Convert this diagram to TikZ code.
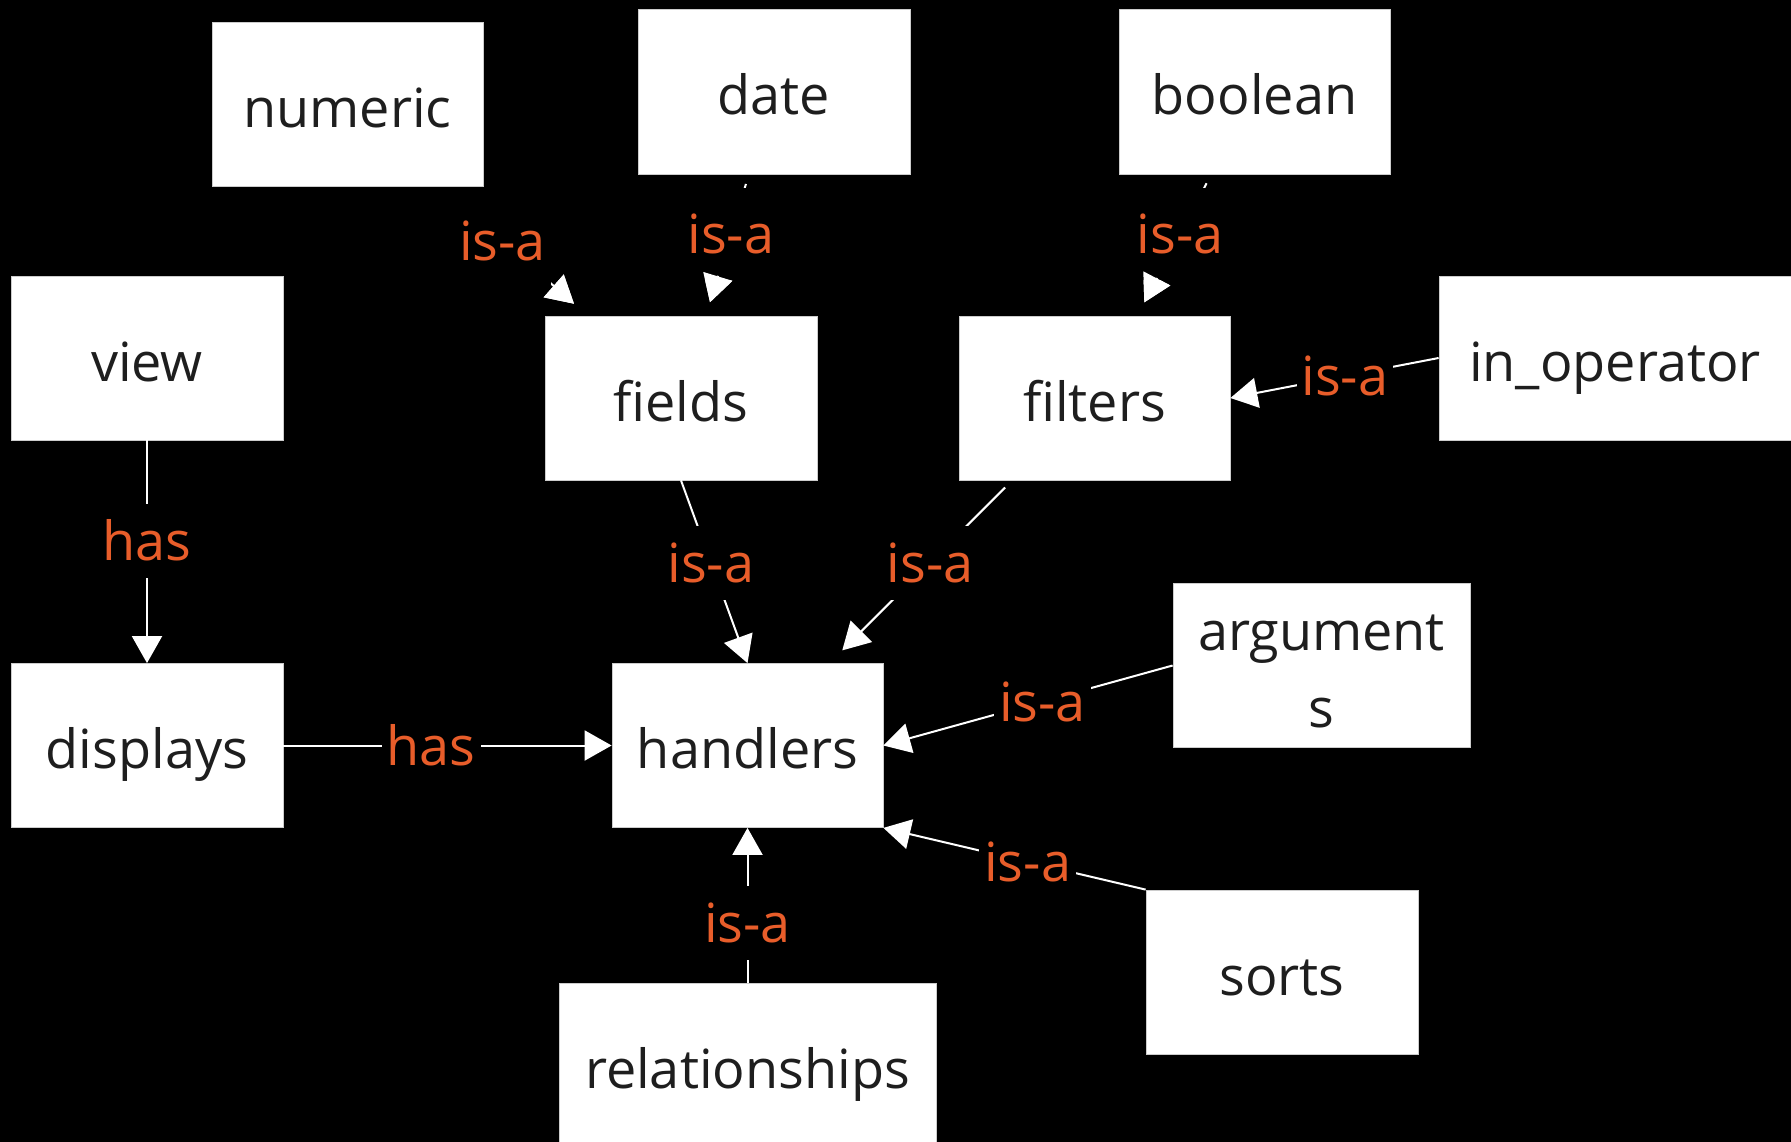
\documentclass[tikz,border=0pt]{standalone}
\usepackage{fontspec}
\setmainfont{Open Sans}
\usetikzlibrary{arrows.meta}
\definecolor{lbl}{RGB}{232,93,42}
\definecolor{txt}{RGB}{30,30,30}
\begin{document}
\begin{tikzpicture}[x=1pt,y=-1pt,
  box/.style={rectangle, fill=white, draw=gray!40, line width=0.8pt, inner sep=0pt,
    minimum height=164pt, text=txt, font=\fontsize{54}{77}\selectfont},
  onel/.style={text height=58pt, text depth=12pt},
  lab/.style={fill=black, text=lbl, inner xsep=5pt, inner ysep=0pt, minimum height=74pt,
    font=\fontsize{54}{60}\selectfont, pos=0.45},
  toplab/.style={lab, minimum height=92pt, pos=0.42},
  edge/.style={draw=white, line width=2pt, -{Triangle[length=27pt,width=30pt]}},
  gap/.style={shorten >=#1, shorten <=10pt}
]
\useasboundingbox (0,0) rectangle (1791,1142);
\fill[black] (0,0) rectangle (1791,1142);
\clip (0,0) rectangle (1791,1142);

\node[box, onel, minimum width=271pt] (numeric) at (347.5,104.5) {numeric};
\node[box, onel, minimum width=272pt, minimum height=165pt] (date) at (774,91.5) {date};
\node[box, onel, minimum width=271pt, minimum height=165pt] (boolean) at (1254.5,91.5) {boolean};
\node[box, onel, minimum width=272pt] (view) at (147,358) {view};
\node[box, onel, minimum width=272pt] (fields) at (681,398) {fields};
\node[box, onel, minimum width=271pt] (filters) at (1094.5,398) {filters};
\node[box, onel, minimum width=352pt] (inop) at (1615,358) {in\_operator};
\node[box, onel, minimum width=272pt] (displays) at (147,745.5) {displays};
\node[box, onel, minimum width=271pt] (handlers) at (747.5,745.5) {handlers};
\node[box, minimum width=297pt, align=center] (arguments) at (1321.5,665.5) {\rule{0pt}{48pt}argument\\s};
\node[box, onel, minimum width=272pt] (sorts) at (1282,972) {sorts};
\node[box, onel, minimum width=377pt] (relationships) at (747.5,1065) {relationships};

% top-row edges: line + label, then the arrowhead drawn again on top
\draw[edge, gap=18pt, shorten <=28pt] (numeric) -- node[toplab]{is-a} (fields);
\draw[edge, shorten >=18pt, shorten <=150pt] (numeric) -- (fields);
\draw[edge, gap=14pt] (date) -- node[toplab]{is-a} (fields);
\draw[edge, shorten >=14pt, shorten <=106pt] (date) -- (fields);
\draw[edge, gap=15pt] (boolean) -- node[toplab]{is-a} (filters);
\draw[edge, shorten >=15pt, shorten <=117pt] (boolean) -- (filters);

\draw[edge] (inop.west) -- node[lab]{is-a} (filters.east);
\draw[edge] (fields.south) -- node[lab]{is-a} (handlers.north);
\draw[edge, gap=18pt] (filters) -- node[lab]{is-a} (handlers);
\draw[edge] (arguments.west) -- node[lab]{is-a} (handlers.east);
\draw[edge] (sorts.north west) -- node[lab]{is-a} (handlers.south east);
\draw[edge] (relationships.north) -- node[lab, pos=0.385]{is-a} (handlers.south);
\draw[edge] (view.south) -- node[lab]{has} (displays.north);
\draw[edge] (displays.east) -- node[lab]{has} (handlers.west);
\end{tikzpicture}
\end{document}
